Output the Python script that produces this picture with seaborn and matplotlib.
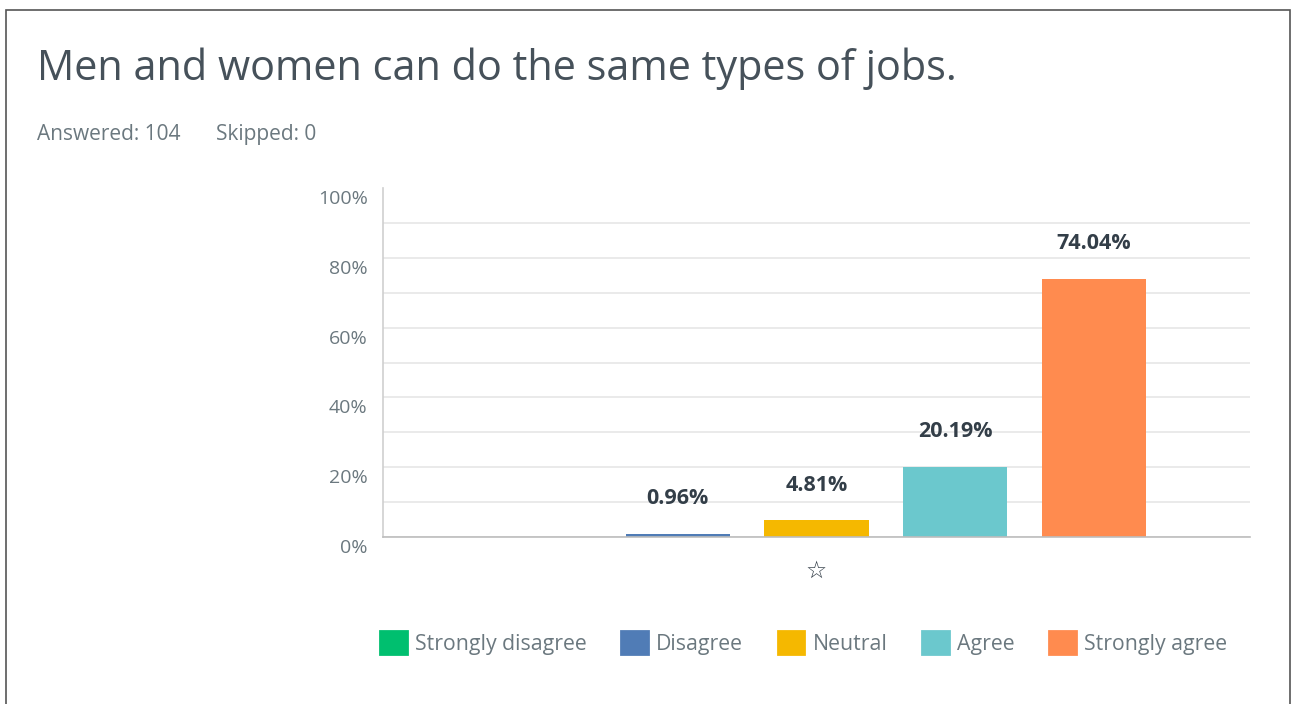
import matplotlib
matplotlib.use("Agg")
import matplotlib.pyplot as plt
import matplotlib.transforms as mtransforms
from matplotlib.patches import Patch, Rectangle
import pandas as pd
import seaborn as sns

# Survey responses for a single question
responses = ["Strongly disagree", "Disagree", "Neutral", "Agree", "Strongly agree"]
percentages = [0.00, 0.96, 4.81, 20.19, 74.04]
colors = ["#00BF6F", "#507CB6", "#F5B800", "#6BC8CD", "#FF8B4F"]
group_label = "\u2606"
y_ticks = [0, 20, 40, 60, 80, 100]
y_tick_labels = ["0%", "20%", "40%", "60%", "80%", "100%"]
title = "Men and women can do the same types of jobs."
answered_text = "Answered: 104"
skipped_text = "Skipped: 0"

sns.set_theme(style="white")
plt.rcParams["font.family"] = ["Open Sans", "DejaVu Sans"]

W, H = 1292, 704
fig = plt.figure(figsize=(W / 100, H / 100), dpi=100)
fig.patch.set_facecolor("white")

ax = fig.add_axes([383 / W, 1 - 537 / H, (1250 - 383) / W, (537 - 188) / H])

df = pd.DataFrame({
    "group": [group_label] * len(responses),
    "response": responses,
    "value": percentages,
})

sns.barplot(
    data=df, x="group", y="value", hue="response", hue_order=responses,
    palette=colors, gap=0.25, legend=False, ax=ax, saturation=1,
    linewidth=0,
)

ax.set_xlim(-0.5, 0.5)
ax.set_ylim(0, 100)
ax.set_xlabel("")
ax.set_ylabel("")

# Gridlines every 10%, labels every 20%
ax.set_yticks(y_ticks)
ax.set_yticklabels(y_tick_labels)
ax.set_yticks([10, 30, 50, 70, 90], minor=True)
ax.grid(axis="y", which="both", color="#E6E6E6", linewidth=1.2)
ax.set_axisbelow(True)
for tick in ax.yaxis.get_major_ticks():
    if tick.get_loc() >= 100:
        tick.gridline.set_visible(False)
ax.tick_params(axis="y", which="both", length=0, pad=11, labelsize=14,
               labelcolor="#6B787F")
offset = mtransforms.ScaledTranslation(0, -0.09, fig.dpi_scale_trans)
for lbl in ax.get_yticklabels():
    lbl.set_transform(lbl.get_transform() + offset)

ax.tick_params(axis="x", length=0, pad=16, labelsize=17, labelcolor="#333E48")
for lbl in ax.get_xticklabels():
    lbl.set_fontfamily(["DejaVu Sans"])

for side in ["top", "right"]:
    ax.spines[side].set_visible(False)
ax.spines["left"].set_color("#CFCFCF")
ax.spines["bottom"].set_color("#BDBDBD")
ax.spines["left"].set_linewidth(1.2)
ax.spines["bottom"].set_linewidth(1.2)

# Value labels above bars
for bar in ax.patches:
    h = bar.get_height()
    if h > 0:
        ax.annotate(f"{h:.2f}%", (bar.get_x() + bar.get_width() / 2, h),
                    xytext=(0, 25), textcoords="offset points",
                    ha="center", va="center", fontsize=15.5,
                    fontweight="bold", color="#333E48")

# Title and counts
fig.text(37 / W, 1 - 80 / H, title, fontsize=29.9, fontweight="normal",
         color="#46515A", va="baseline", ha="left")
fig.text(37 / W, 1 - 140 / H, answered_text, fontsize=15,
         color="#6B787F", va="baseline", ha="left")
fig.text(216 / W, 1 - 140 / H, skipped_text, fontsize=15,
         color="#6B787F", va="baseline", ha="left")

# Legend with rounded swatches
handles = [Patch(facecolor=c, edgecolor=c, linewidth=2, joinstyle="round")
           for c in colors]
fig.legend(handles, responses, loc="center left",
           bbox_to_anchor=(380 / W, 1 - 643 / H), ncol=len(responses),
           frameon=False, fontsize=15.3, labelcolor="#6B787F",
           handlelength=1.25, handleheight=1.25, handletextpad=0.4,
           columnspacing=1.62, borderaxespad=0, borderpad=0)

# Outer frame
fig.add_artist(Rectangle((6 / W, -0.05), (1290 - 6) / W, 1.05 - 10 / H,
                         transform=fig.transFigure, fill=False,
                         edgecolor="#555555", linewidth=1.2))

fig.savefig("out.png", dpi=100, facecolor="white")
